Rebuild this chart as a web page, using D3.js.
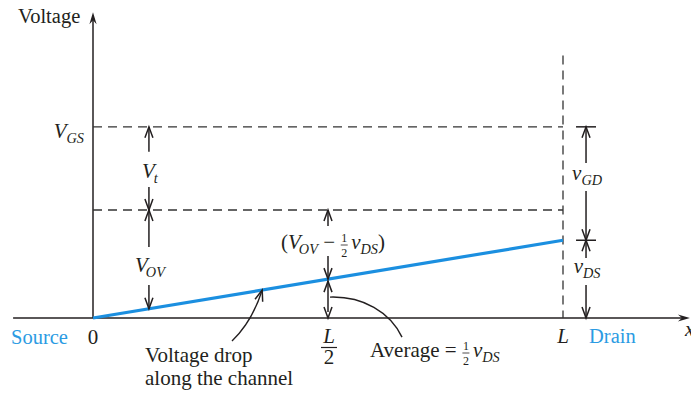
<!DOCTYPE html>
<html><head><meta charset="utf-8">
<script src="https://cdn.jsdelivr.net/npm/d3@7"></script>
<style>body{margin:0;background:#fff}svg{display:block}</style>
</head><body><svg id="c" width="691" height="397"></svg>
<script>
// ---- data ----
const xPositions = [0, 0.5, 1];              // source, L/2, drain (fraction of L)
const xTickLabels = ["0", "L/2", "L"];
const endLabels = ["Source", "Drain"];
const levelNames = ["V_GS", "V_GS - V_t"];
const levelValues = [1.77, 1.0];             // V_GS and V_OV (=V_GS - V_t)
const channelX = [0, 1];
const channelV = [0, 0.72];                  // channel voltage: 0 at source, v_DS at drain
const axisExtentX = [-0.17, 1.27];
const axisExtentY = [0, 2.83];
const drainLineTop = 2.43;
const dimColumns = [0.119, 0.5, 1.049];      // x of dimension arrows

// ---- setup ----
const svg = d3.select("#c");
const FONT = "'Liberation Serif','Times New Roman',serif";
const INK = "#231f20", BLUE = "#1b8fe0", BLUE_TXT = "#2b9be3";
const x = d3.scaleLinear().domain([0, 1]).range([93, 563]);
const y = d3.scaleLinear().domain([0, 1]).range([318, 210]);
const chan = d3.scaleLinear().domain(channelX).range(channelV);
const VGS = levelValues[0], VOV = levelValues[1], VDS = channelV[1];

const g = svg.append("g").attr("font-family", FONT).attr("fill", INK);

function arrowHead(px, py, dx, dy, filled) {
  const len = Math.hypot(dx, dy); const ux = dx / len, uy = dy / len;
  const L = filled ? 12 : 11, hw = filled ? 3.6 : 4;
  const bx = px - ux * L, by = py - uy * L;
  const p1 = [bx - uy * hw, by + ux * hw], p2 = [bx + uy * hw, by - ux * hw];
  if (filled) {
    const nx = px - ux * 8, ny = py - uy * 8;
    g.append("path").attr("d", `M${px},${py}L${p1}L${nx},${ny}L${p2}Z`).attr("fill", INK).attr("stroke", "none");
  } else {
    g.append("path").attr("d", `M${p1}L${px},${py}L${p2}`).attr("fill", "none").attr("stroke", INK).attr("stroke-width", 1.5);
  }
}
function dim(cx, yTip, yTail) {
  g.append("line").attr("x1", cx).attr("x2", cx).attr("y1", yTip).attr("y2", yTail)
    .attr("stroke", INK).attr("stroke-width", 1.5);
  arrowHead(cx, yTip, 0, yTip - yTail, false);
}
function bar(cx, yy, hw) {
  g.append("line").attr("x1", cx - hw).attr("x2", cx + hw).attr("y1", yy).attr("y2", yy)
    .attr("stroke", INK).attr("stroke-width", 1.5);
}
// math text: pieces [{t, it, sub, frac}]
function math(x0, y0, pieces, anchor, size) {
  size = size || 20;
  const grp = g.append("g");
  let cx = 0;
  pieces.forEach(p => {
    if (p.frac) {
      const fs = 12;
      const a = grp.append("text").attr("y", -7).attr("font-size", fs).text(p.frac[0]);
      const b = grp.append("text").attr("y", 8).attr("font-size", fs).text(p.frac[1]);
      const w = Math.max(a.node().getComputedTextLength(), b.node().getComputedTextLength());
      a.attr("x", cx + 1 + (w - a.node().getComputedTextLength()) / 2);
      b.attr("x", cx + 1 + (w - b.node().getComputedTextLength()) / 2);
      grp.append("line").attr("x1", cx + 0.5).attr("x2", cx + w + 1.5).attr("y1", -4).attr("y2", -4)
        .attr("stroke", INK).attr("stroke-width", 0.8);
      cx += w + 5;
    } else {
      const t = grp.append("text").attr("x", cx).attr("y", p.sub ? 5 : 0)
        .attr("font-size", p.sub ? size * 0.68 : size)
        .attr("font-style", (p.it || p.sub) ? "italic" : "normal")
        .attr("xml:space", "preserve").text(p.t);
      cx += t.node().getComputedTextLength() + (p.kern || 0);
    }
  });
  const shift = anchor === "middle" ? -cx / 2 : anchor === "end" ? -cx : 0;
  grp.attr("transform", `translate(${x0 + shift},${y0})`);
}

// ---- axes ----
g.append("line").attr("x1", x(axisExtentX[0])).attr("x2", x(axisExtentX[1]) - 4)
  .attr("y1", y(0)).attr("y2", y(0)).attr("stroke", INK).attr("stroke-width", 1.5);
arrowHead(x(axisExtentX[1]), y(0), 1, 0, true);
g.append("line").attr("x1", x(0)).attr("x2", x(0))
  .attr("y1", y(0)).attr("y2", y(axisExtentY[1]) + 4).attr("stroke", INK).attr("stroke-width", 1.5);
arrowHead(x(0), y(axisExtentY[1]), 0, -1, true);
g.append("text").attr("x", 18).attr("y", 23).attr("font-size", 20.5).text("Voltage");
g.append("text").attr("x", 685).attr("y", 336).attr("font-size", 21).attr("font-style", "italic").text("x");

// ---- dashed guide lines ----
levelValues.forEach(v => {
  g.append("line").attr("x1", x(0)).attr("x2", x(1)).attr("y1", y(v)).attr("y2", y(v))
    .attr("stroke", "#333").attr("stroke-width", 1.3).attr("stroke-dasharray", "9,6");
});
g.append("line").attr("x1", x(1)).attr("x2", x(1)).attr("y1", y(drainLineTop)).attr("y2", y(0))
  .attr("stroke", "#333").attr("stroke-width", 1.3).attr("stroke-dasharray", "9,6");

// ---- channel voltage ----
g.append("path").datum(channelX.map((d, i) => [d, channelV[i]]))
  .attr("d", d3.line().x(d => x(d[0])).y(d => y(d[1])))
  .attr("fill", "none").attr("stroke", BLUE).attr("stroke-width", 3.2);

// ---- tick labels ----
g.append("text").attr("x", x(xPositions[0])).attr("y", 344).attr("font-size", 21).attr("text-anchor", "middle").text(xTickLabels[0]);
g.append("text").attr("x", x(xPositions[1]) + 1).attr("y", 343).attr("font-size", 21).attr("font-style", "italic").attr("text-anchor", "middle").text("L");
g.append("line").attr("x1", x(xPositions[1]) - 7).attr("x2", x(xPositions[1]) + 9).attr("y1", 347.5).attr("y2", 347.5).attr("stroke", INK).attr("stroke-width", 1.2);
g.append("text").attr("x", x(xPositions[1]) + 1).attr("y", 364).attr("font-size", 21).attr("text-anchor", "middle").text("2");
g.append("text").attr("x", x(xPositions[2])).attr("y", 343).attr("font-size", 21).attr("font-style", "italic").attr("text-anchor", "middle").text(xTickLabels[2]);
g.append("text").attr("x", 11).attr("y", 344).attr("font-size", 20.5).attr("fill", BLUE_TXT).text(endLabels[0]);
g.append("text").attr("x", 589).attr("y", 343).attr("font-size", 20.5).attr("fill", BLUE_TXT).text(endLabels[1]);

// V_GS level label
math(84, 138, [{t: "V", it: true}, {t: "GS", sub: true}], "end", 21);

// ---- left dimension column: V_t and V_OV ----
const c1 = x(dimColumns[0]);
dim(c1, y(VGS), y(VGS) + 25);
math(c1 + 1, 178, [{t: "V", it: true, kern: -1}, {t: "t", sub: true}], "middle", 21);
dim(c1, y(VOV), y(VOV) - 23);
dim(c1, y(VOV), y(VOV) + 37);
math(c1 + 1, 272, [{t: "V", it: true, kern: -2}, {t: "OV", sub: true}], "middle", 21);
dim(c1, y(chan(dimColumns[0])), 285);

// ---- middle column ----
const c2 = x(dimColumns[1]);
const vMid = chan(dimColumns[1]);
dim(c2, y(VOV), y(VOV) + 16);
math(c2 + 5, 249, [{t: "("}, {t: "V", it: true, kern: -2}, {t: "OV", sub: true}, {t: " − "}, {frac: ["1", "2"]},
  {t: "v", it: true}, {t: "DS", sub: true}, {t: ")"}], "middle", 21);
dim(c2, y(vMid), 256);
dim(c2, y(vMid) + 2, y(0) - 6);
arrowHead(c2, y(0), 0, 1, false);
// Average leader
g.append("path").attr("d", `M${c2 + 2},${y(vMid) + 18} C${c2 + 35},${y(vMid) + 17} ${c2 + 62},${y(vMid) + 33} ${c2 + 74},${y(vMid) + 58}`)
  .attr("fill", "none").attr("stroke", INK).attr("stroke-width", 1.4);
math(370, 357, [{t: "Average = "}, {frac: ["1", "2"]}, {t: "v", it: true}, {t: "DS", sub: true}], "start", 21);

// ---- right column: v_GD and v_DS ----
const c3 = x(dimColumns[2]);
bar(c3, y(VGS), 10);
dim(c3, y(VGS), 163);
math(c3 + 1, 180, [{t: "v", it: true}, {t: "GD", sub: true}], "middle", 21);
dim(c3, y(VDS), 191);
bar(c3, y(VDS), 10);
dim(c3, y(VDS), 258);
math(c3 + 1, 273, [{t: "v", it: true}, {t: "DS", sub: true}], "middle", 21);
dim(c3, y(0), 285);

// ---- voltage drop leader ----
const tipX = x(0.36), tipY = y(chan(0.36));
g.append("path").attr("d", `M232,341 Q252,322 ${tipX},${tipY}`)
  .attr("fill", "none").attr("stroke", INK).attr("stroke-width", 1.4);
arrowHead(tipX, tipY, tipX - 252, tipY - 322, false);
g.append("text").attr("x", 145).attr("y", 362).attr("font-size", 21).text("Voltage drop");
g.append("text").attr("x", 145).attr("y", 385).attr("font-size", 21).text("along the channel");
</script></body></html>
